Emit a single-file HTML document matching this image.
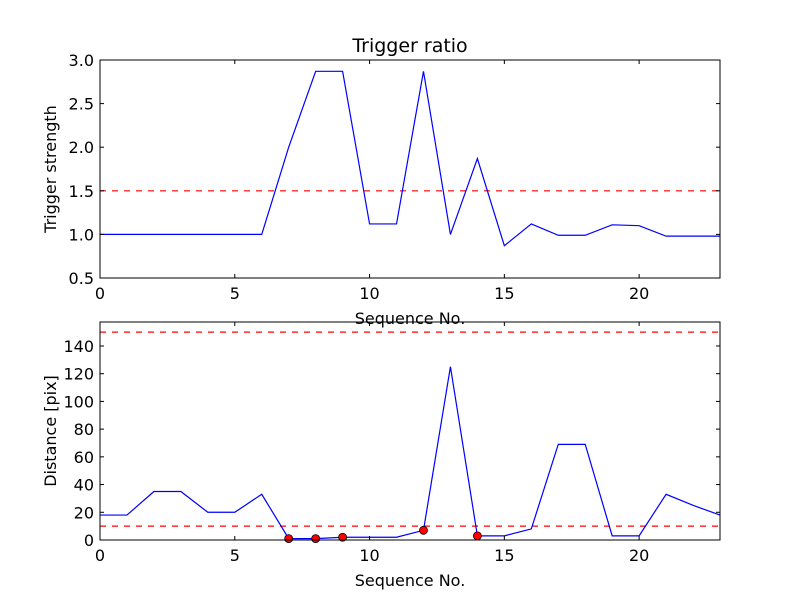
<!DOCTYPE html>
<html><head><meta charset="utf-8"><style>body{margin:0;background:#fff}svg{display:block;font-family:"DejaVu Sans","Liberation Sans",sans-serif}</style></head>
<body>
<svg id="c" width="800" height="600" viewBox="0 0 800 600"></svg>
<script>
const seq = [0,1,2,3,4,5,6,7,8,9,10,11,12,13,14,15,16,17,18,19,20,21,22,23];
const ratio = [1,1,1,1,1,1,1,2.0,2.87,2.87,1.12,1.12,2.87,1.0,1.87,0.87,1.12,0.99,0.99,1.11,1.10,0.98,0.98,0.98];
const dist = [18,18,35,35,20,20,33,1,1,2,2,2,7,125,3,3,8,69,69,3,3,33,25,18];
const triggered = [7,8,9,12,14];
const xTicks = [0,5,10,15,20];
const yTicksTop = [0.5,1.0,1.5,2.0,2.5,3.0];
const yTicksBot = [0,20,40,60,80,100,120,140];
const ratioThresh = 1.5;
const distThresh = [10,150];

const svg = document.getElementById('c');
const NS = 'http://www.w3.org/2000/svg';
function mk(tag, attrs, parent){const e=document.createElementNS(NS,tag);for(const k in attrs)e.setAttribute(k,attrs[k]);(parent||svg).appendChild(e);return e;}

function panel(name, top, bottom, ymin, ymax, yTicks, fmt, vals, thresh, ylabel, title, dots){
  const L=100,R=720;
  const g=mk('g',{});
  
  
  const sx=v=>L+(v-0)/(23-0)*(R-L);
  const sy=v=>bottom-(v-ymin)/(ymax-ymin)*(bottom-top);
  thresh.forEach(t=>{
    const l=mk('line',{x1:L,x2:R,y1:sy(t),y2:sy(t),stroke:'#ff0000','stroke-width':1.2,'stroke-dasharray':'6,6'},g);
    
    
  });
  const p=mk('polyline',{points:seq.map((s,i)=>sx(s)+','+sy(vals[i])).join(' '),fill:'none',stroke:'#0000ff','stroke-width':1.2},g);
  
  
  if(dots) dots.forEach(s=>{
    const c=mk('circle',{cx:sx(s),cy:sy(vals[s]),r:4,fill:'#ff0000',stroke:'#000','stroke-width':0.8},g);
    
    
  });
  const f=mk('rect',{x:L,y:top,width:R-L,height:bottom-top,fill:'none',stroke:'#000','stroke-width':1},g);
  
  
  xTicks.forEach(t=>{
    const x=sx(t);
    mk('line',{x1:x,x2:x,y1:bottom,y2:bottom-4,stroke:'#000'},g);
    mk('line',{x1:x,x2:x,y1:top,y2:top+4,stroke:'#000'},g);
    const tx=mk('text',{x:x,y:bottom+21,'text-anchor':'middle','font-size':16},g);tx.textContent=t;
    
    
  });
  yTicks.forEach(t=>{
    const y=sy(t);
    mk('line',{x1:L,x2:L+4,y1:y,y2:y,stroke:'#000'},g);
    mk('line',{x1:R,x2:R-4,y1:y,y2:y,stroke:'#000'},g);
    const tx=mk('text',{x:L-6,y:y+6,'text-anchor':'end','font-size':16},g);tx.textContent=fmt(t);
    
    
  });
  const xl=mk('text',{x:(L+R)/2,y:bottom+46,'text-anchor':'middle','font-size':16},g);xl.textContent='Sequence No.';
  
  
  const yl=mk('text',{x:0,y:0,'text-anchor':'middle','font-size':16,transform:`translate(56,${(top+bottom)/2}) rotate(-90)`},g);yl.textContent=ylabel;
  
  
  if(title){const tt=mk('text',{x:(L+R)/2,y:top-8,'text-anchor':'middle','font-size':19},g);tt.textContent=title;
    
    }
}
panel('top-panel',60,278,0.5,3.0,yTicksTop,v=>v.toFixed(1),ratio,[ratioThresh],'Trigger strength','Trigger ratio',null);
panel('bottom-panel',322,540,0,157.3,yTicksBot,v=>String(v),dist,distThresh,'Distance [pix]',null,triggered);
</script>
</body></html>
